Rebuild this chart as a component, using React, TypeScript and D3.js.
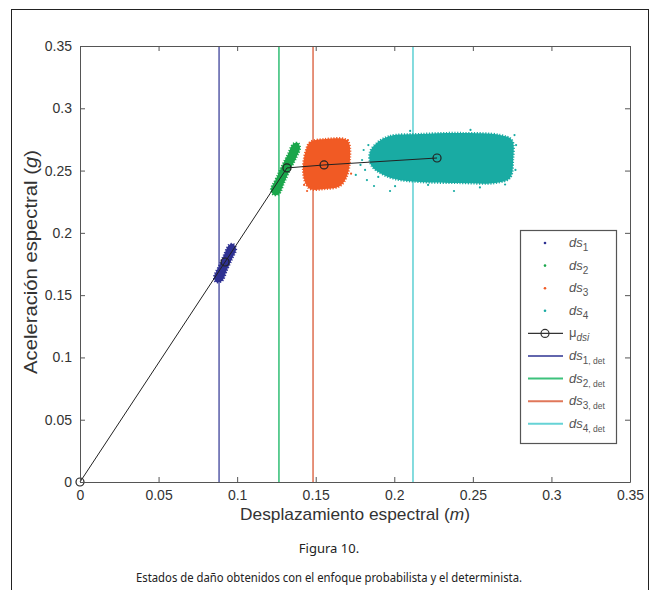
import { useEffect, useRef } from "react";
import * as d3 from "d3";

// axis ticks
const xTicks = [0, 0.05, 0.1, 0.15, 0.2, 0.25, 0.3, 0.35];
const yTicks = [0, 0.05, 0.1, 0.15, 0.2, 0.25, 0.3, 0.35];

// mean of each damage state (mu_dsi), starting at the origin
const meanX = [0, 0.0923, 0.1317, 0.1553, 0.2272];
const meanY = [0, 0.1766, 0.2521, 0.2545, 0.2601];

// deterministic damage-state displacements
const detX = [0.0885, 0.1266, 0.1483, 0.2119];

// outlines of the dense sample clouds (Sd, Sa)
const ds1Cloud: [number, number][] = [
  [0.0853, 0.1646], [0.0885, 0.1734], [0.0916, 0.1822], [0.0948, 0.1903],
  [0.0974, 0.1911], [0.0993, 0.187], [0.0967, 0.179], [0.0935, 0.1702],
  [0.0904, 0.1614], [0.0865, 0.1606],
];
const ds2Cloud: [number, number][] = [
  [0.1215, 0.2344], [0.1247, 0.2432], [0.1285, 0.2537], [0.1324, 0.2633],
  [0.1356, 0.2713], [0.1387, 0.2721], [0.14, 0.2681], [0.1375, 0.2601],
  [0.1336, 0.2505], [0.1298, 0.24], [0.1266, 0.2312], [0.1235, 0.2304],
];
const ds3Cloud: [number, number][] = [
  [0.1464, 0.2729], [0.1559, 0.2753], [0.1686, 0.2753], [0.1712, 0.2721],
  [0.1718, 0.2585], [0.1699, 0.2456], [0.1655, 0.2376], [0.1559, 0.2352],
  [0.1464, 0.2352], [0.1432, 0.2408], [0.1419, 0.2521], [0.1438, 0.2665],
];
const ds4Cloud: [number, number][] = [
  [0.1896, 0.2729], [0.1973, 0.2778], [0.2164, 0.2794], [0.2418, 0.2802],
  [0.2673, 0.2786], [0.2749, 0.2745], [0.2756, 0.2585], [0.2736, 0.244],
  [0.2641, 0.24], [0.2418, 0.24], [0.2164, 0.2408], [0.2005, 0.2432],
  [0.1909, 0.2481], [0.1852, 0.2545], [0.1845, 0.2649],
];

// loose samples outside the dense clouds
const ds3Loose: [number, number][] = [
  [0.1426, 0.2385], [0.1445, 0.2336], [0.1705, 0.2745], [0.1725, 0.2475],
];
const ds4Loose: [number, number][] = [
  [0.1826, 0.2424], [0.1871, 0.2376], [0.1973, 0.2336], [0.238, 0.2336],
  [0.1795, 0.2585], [0.1814, 0.2505], [0.1785, 0.2545], [0.1805, 0.2665],
  [0.1835, 0.2705], [0.2005, 0.2375], [0.2215, 0.2385], [0.2545, 0.2365],
  [0.2765, 0.2785], [0.2775, 0.2705], [0.2771, 0.2505], [0.2101, 0.2818],
  [0.2485, 0.2826], [0.2705, 0.2388], [0.1755, 0.2465], [0.1898, 0.2449],
];

const states = ["1", "2", "3", "4"];
const cloudColors = ["#2e3192", "#1aa64b", "#f15a24", "#19aba3"];
const detColors = ["#6266ad", "#3dc27c", "#e0775a", "#66d3d6"];

export default function App() {
  const svgRef = useRef<SVGSVGElement>(null);
  const width = 660;
  const height = 590;

  useEffect(() => {
    if (!svgRef.current) return;
    const marginLeft = 80;
    const marginRight = 30;
    const marginTop = 46;
    const marginBottom = 108;

    const x = d3.scaleLinear([0, 0.35], [marginLeft, width - marginRight]);
    const y = d3.scaleLinear([0, 0.35], [height - marginBottom, marginTop]);

    const svg = d3.select(svgRef.current);
    const font = "'Liberation Sans', Arial, sans-serif";

    // outer frame of the figure
    svg.append("rect")
      .attr("x", 11.5).attr("y", 9.5)
      .attr("width", 637).attr("height", 620)
      .attr("fill", "none").attr("stroke", "#222").attr("stroke-width", 1);

    // clip to plot area
    svg.append("clipPath").attr("id", "plotclip")
      .append("rect")
      .attr("x", x(0)).attr("y", y(0.35))
      .attr("width", x(0.35) - x(0)).attr("height", y(0) - y(0.35));

    const plot = svg.append("g").attr("clip-path", "url(#plotclip)");

    // deterministic lines
    detX.forEach((d, i) => {
      plot.append("line")
        .attr("x1", x(d)).attr("x2", x(d))
        .attr("y1", y(0)).attr("y2", y(0.35))
        .attr("stroke", detColors[i]).attr("stroke-width", 1.6);
    });

    // sample clouds
    const area = d3.line<[number, number]>()
      .x(d => x(d[0])).y(d => y(d[1]))
      .curve(d3.curveCatmullRomClosed);
    [ds1Cloud, ds2Cloud, ds3Cloud, ds4Cloud].forEach((cloud, i) => {
      plot.append("path")
        .attr("d", area(cloud))
        .attr("fill", cloudColors[i])
        .attr("stroke", cloudColors[i])
        .attr("stroke-width", 2.2)
        .attr("stroke-dasharray", "1.2 1.6");
    });
    [ds3Loose, ds4Loose].forEach((pts, k) => {
      plot.selectAll(null).data(pts).join("circle")
        .attr("cx", d => x(d[0])).attr("cy", d => y(d[1]))
        .attr("r", 1.1).attr("fill", cloudColors[k + 2]);
    });

    // mean path
    const meanPts = meanX.map((d, i) => [d, meanY[i]] as [number, number]);
    const line = d3.line<[number, number]>().x(d => x(d[0])).y(d => y(d[1]));
    svg.append("path")
      .attr("d", line(meanPts))
      .attr("fill", "none").attr("stroke", "#222").attr("stroke-width", 1);
    svg.selectAll(null).data(meanPts).join("circle")
      .attr("cx", d => x(d[0])).attr("cy", d => y(d[1]))
      .attr("r", 4).attr("fill", "none").attr("stroke", "#222").attr("stroke-width", 1.2);

    // axes
    const fmt = (d: d3.NumberValue) => String(+d);
    const styleAxis = (g: d3.Selection<SVGGElement, unknown, null, undefined>) => {
      g.attr("font-family", font).attr("font-size", 14).attr("color", "#444");
      g.select(".domain").attr("stroke", "#555");
      g.selectAll(".tick line").attr("stroke", "#555");
      g.selectAll(".tick text").attr("fill", "#333");
    };
    svg.append("g")
      .attr("transform", `translate(0,${y(0)})`)
      .call(d3.axisBottom(x).tickValues(xTicks).tickFormat(fmt).tickSizeInner(-5).tickSizeOuter(0).tickPadding(8))
      .call(styleAxis);
    svg.append("g")
      .attr("transform", `translate(0,${y(0.35)})`)
      .call(d3.axisTop(x).tickValues(xTicks).tickFormat(() => "").tickSizeInner(-5).tickSizeOuter(0))
      .call(styleAxis);
    svg.append("g")
      .attr("transform", `translate(${x(0)},0)`)
      .call(d3.axisLeft(y).tickValues(yTicks).tickFormat(fmt).tickSizeInner(-5).tickSizeOuter(0).tickPadding(8))
      .call(styleAxis);
    svg.append("g")
      .attr("transform", `translate(${x(0.35)},0)`)
      .call(d3.axisRight(y).tickValues(yTicks).tickFormat(() => "").tickSizeInner(-5).tickSizeOuter(0))
      .call(styleAxis);

    // axis titles
    const xt = svg.append("text")
      .attr("x", (x(0) + x(0.35)) / 2).attr("y", 520)
      .attr("text-anchor", "middle")
      .attr("textLength", 230).attr("lengthAdjust", "spacingAndGlyphs")
      .attr("font-family", font).attr("font-size", 17).attr("fill", "#333");
    xt.append("tspan").text("Desplazamiento espectral (");
    xt.append("tspan").attr("font-style", "italic").text("m");
    xt.append("tspan").text(")");

    const yt = svg.append("text")
      .attr("transform", `translate(37,262) rotate(-90)`)
      .attr("text-anchor", "middle")
      .attr("textLength", 224).attr("lengthAdjust", "spacingAndGlyphs")
      .attr("font-family", font).attr("font-size", 18).attr("fill", "#333");
    yt.append("tspan").text("Aceleración espectral (");
    yt.append("tspan").attr("font-style", "italic").text("g");
    yt.append("tspan").text(")");

    // legend
    const lg = svg.append("g").attr("font-family", font).attr("fill", "#444");
    lg.append("rect")
      .attr("x", 520.5).attr("y", 230.5).attr("width", 96).attr("height", 213)
      .attr("fill", "#fff").attr("stroke", "#555").attr("stroke-width", 1.2);
    const rowY = (i: number) => 243 + i * 22.6;
    const label = (i: number, sub: string, extra: string) => {
      const t = lg.append("text").attr("x", 569).attr("y", rowY(i) + 4)
        .attr("font-size", 13).attr("fill", "#555");
      t.append("tspan").attr("font-style", "italic").text("ds");
      const s = t.append("tspan").attr("dy", 4).attr("font-size", 10).text(sub);
      if (extra) s.append("tspan").attr("font-size", 8.5).text(extra);
    };
    states.forEach((s, i) => {
      lg.append("circle").attr("cx", 545).attr("cy", rowY(i)).attr("r", 1.3).attr("fill", cloudColors[i]);
      label(i, s, "");
    });
    lg.append("line").attr("x1", 528).attr("x2", 563).attr("y1", rowY(4)).attr("y2", rowY(4))
      .attr("stroke", "#333").attr("stroke-width", 1.2);
    lg.append("circle").attr("cx", 545).attr("cy", rowY(4)).attr("r", 4)
      .attr("fill", "none").attr("stroke", "#333").attr("stroke-width", 1.2);
    const mu = lg.append("text").attr("x", 569).attr("y", rowY(4) + 4).attr("font-size", 13).attr("fill", "#555");
    mu.append("tspan").text("μ");
    mu.append("tspan").attr("dy", 4).attr("font-size", 10).attr("font-style", "italic").text("dsi");
    states.forEach((s, i) => {
      lg.append("line").attr("x1", 528).attr("x2", 563).attr("y1", rowY(5 + i)).attr("y2", rowY(5 + i))
        .attr("stroke", detColors[i]).attr("stroke-width", 2);
      label(5 + i, s, ", det");
    });

    // caption
    const capFont = "'Noto Sans', 'Open Sans', sans-serif";
    svg.append("text").attr("x", 329).attr("y", 553).attr("text-anchor", "middle")
      .attr("font-family", capFont).attr("font-size", 13).attr("fill", "#222")
      .text("Figura 10.");
    svg.append("text").attr("x", 329).attr("y", 582).attr("text-anchor", "middle")
      .attr("textLength", 386).attr("lengthAdjust", "spacingAndGlyphs")
      .attr("font-family", capFont).attr("font-size", 13).attr("fill", "#222")
      .text("Estados de daño obtenidos con el enfoque probabilista y el determinista.");

    return () => {
      svg.selectAll("*").remove();
    };
  }, []);

  return (
    <svg
      ref={svgRef}
      width={width}
      height={height}
      viewBox={`0 0 ${width} ${height}`}
      style={{ position: "absolute", left: 0, top: 0, display: "block", background: "#fff" }}
    />
  );
}
